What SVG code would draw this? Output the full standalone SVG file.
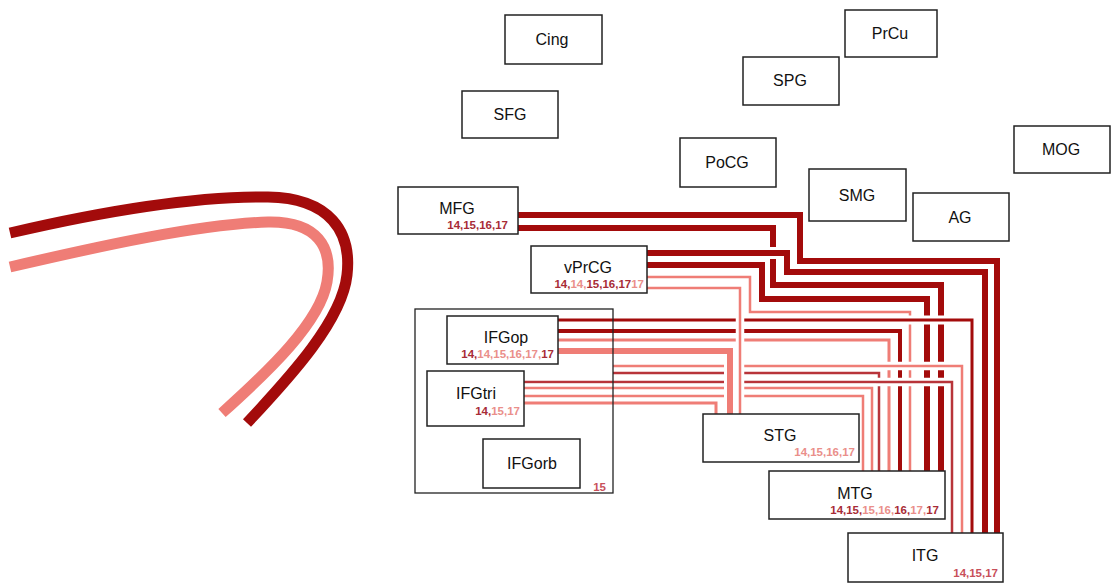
<svg xmlns="http://www.w3.org/2000/svg" xmlns:xlink="http://www.w3.org/1999/xlink" width="1112" height="584" viewBox="0 0 1112 584">
<style>
.box{fill:#fff;stroke:#222;stroke-width:1.5}
.frame{fill:none;stroke:#222;stroke-width:1.3}
.lbl{font-family:"Liberation Sans",Arial,sans-serif;font-size:16px;fill:#111;text-anchor:middle}
.num{font-family:"Liberation Sans",Arial,sans-serif;font-size:11.5px;font-weight:bold;text-anchor:end}
.nd{fill:#a82c36}
.np{fill:#ea8f8a}
.nm{fill:#c8505a}
.c use{fill:none;stroke-linejoin:miter;stroke-linecap:butt}
.halo{stroke:#fff}
.dk{stroke:#a30b0b}
.pk{stroke:#ef7d76}
.md{stroke:#b8343a}
</style>
<defs>
<path id="p1" d="M518,215 H800 V261 H997 V533"/>
<path id="p2" d="M518,228 H773 V285 H941 V471"/>
<path id="p3" d="M647,253 H787 V272 H985 V533"/>
<path id="p4" d="M647,265 H762 V299 H927 V471"/>
<path id="p5" d="M647,277 H750 V312 H910 V471"/>
<path id="p6" d="M558,320 H972 V533"/>
<path id="p7" d="M558,331 H900 V471"/>
<path id="p8" d="M558,340 H889 V471"/>
<path id="p9" d="M613,366 H962 V533"/>
<path id="p10" d="M613,373 H879 V471"/>
<path id="p11" d="M524,382 H952 V533"/>
<path id="p12" d="M524,388 H872 V471"/>
<path id="p13" d="M524,396 H863 V471"/>
<path id="p14" d="M524,403 H716 V414"/>
<path id="p15" d="M558,351 H730 V414"/>
<path id="p16" d="M647,288 H740 V414"/>
</defs>

<g id="tract-curves" fill="none" stroke-linecap="butt">
<path d="M10,233 C100,212 195,196 268,197 C330,198 352,232 347,275 C342,320 292,375 247,423" stroke="#a30b0b" stroke-width="11"/>
<path d="M10,267 C100,246 200,224 268,222 C318,221 333,248 327,282 C320,322 270,370 222,413" stroke="#ef7d76" stroke-width="11"/>
</g>

<g id="connectors" class="c">
<use xlink:href="#p1" class="halo" stroke-width="12"/><use xlink:href="#p1" class="dk" stroke-width="6"/>
<use xlink:href="#p2" class="halo" stroke-width="12"/><use xlink:href="#p2" class="dk" stroke-width="6"/>
<use xlink:href="#p3" class="halo" stroke-width="12"/><use xlink:href="#p3" class="dk" stroke-width="6"/>
<use xlink:href="#p4" class="halo" stroke-width="12"/><use xlink:href="#p4" class="dk" stroke-width="6"/>
<use xlink:href="#p5" class="halo" stroke-width="8.5"/><use xlink:href="#p5" class="pk" stroke-width="2.5"/>
<use xlink:href="#p6" class="halo" stroke-width="9"/><use xlink:href="#p6" class="dk" stroke-width="3"/>
<use xlink:href="#p7" class="halo" stroke-width="10"/><use xlink:href="#p7" class="dk" stroke-width="4"/>
<use xlink:href="#p8" class="halo" stroke-width="9"/><use xlink:href="#p8" class="pk" stroke-width="3"/>
<use xlink:href="#p9" class="halo" stroke-width="8.5"/><use xlink:href="#p9" class="pk" stroke-width="2.5"/>
<use xlink:href="#p10" class="halo" stroke-width="8.5"/><use xlink:href="#p10" class="md" stroke-width="2.5"/>
<use xlink:href="#p11" class="halo" stroke-width="8.5"/><use xlink:href="#p11" class="md" stroke-width="2.5"/>
<use xlink:href="#p12" class="halo" stroke-width="8.5"/><use xlink:href="#p12" class="pk" stroke-width="2.5"/>
<use xlink:href="#p13" class="halo" stroke-width="8.5"/><use xlink:href="#p13" class="pk" stroke-width="2.5"/>
<use xlink:href="#p14" class="halo" stroke-width="9"/><use xlink:href="#p14" class="pk" stroke-width="3"/>
<use xlink:href="#p15" class="halo" stroke-width="12"/><use xlink:href="#p15" class="pk" stroke-width="6"/>
<use xlink:href="#p16" class="halo" stroke-width="8.5"/><use xlink:href="#p16" class="pk" stroke-width="2.5"/>
</g>

<g id="node-Cing"><rect class="box" x="505" y="15" width="97" height="49"/><text class="lbl" x="552" y="45">Cing</text></g>
<g id="node-SFG"><rect class="box" x="462" y="91" width="96" height="47"/><text class="lbl" x="510" y="120">SFG</text></g>
<g id="node-PrCu"><rect class="box" x="845" y="10" width="92" height="47"/><text class="lbl" x="890" y="39">PrCu</text></g>
<g id="node-SPG"><rect class="box" x="743" y="57" width="96" height="48"/><text class="lbl" x="790" y="86">SPG</text></g>
<g id="node-PoCG"><rect class="box" x="680" y="138" width="96" height="49"/><text class="lbl" x="727" y="168">PoCG</text></g>
<g id="node-SMG"><rect class="box" x="809" y="169" width="97" height="52"/><text class="lbl" x="857" y="201">SMG</text></g>
<g id="node-AG"><rect class="box" x="913" y="193" width="96" height="48"/><text class="lbl" x="960" y="223">AG</text></g>
<g id="node-MOG"><rect class="box" x="1014" y="126" width="96" height="47"/><text class="lbl" x="1061" y="155">MOG</text></g>

<g id="node-MFG"><rect class="box" x="398" y="187" width="120" height="47"/><text class="lbl" x="457" y="214">MFG</text><text class="num nd" x="508" y="229">14,15,16,17</text></g>
<g id="node-vPrCG"><rect class="box" x="531" y="246" width="116" height="47"/><text class="lbl" x="588" y="273">vPrCG</text><text class="num" x="644" y="288"><tspan class="nd">14,</tspan><tspan class="np">14,</tspan><tspan class="nd">15,16,17</tspan><tspan class="np">17</tspan></text></g>

<g id="node-IFG"><rect class="frame" x="415" y="309" width="198" height="184"/><text class="num nm" x="606" y="491">15</text></g>
<g id="node-IFGop"><rect class="box" x="447" y="316" width="111" height="48"/><text class="lbl" x="506" y="343">IFGop</text><text class="num" x="554" y="358"><tspan class="nd">14,</tspan><tspan class="np">14,15,16,17,</tspan><tspan class="nd">17</tspan></text></g>
<g id="node-IFGtri"><rect class="box" x="427" y="371" width="97" height="55"/><text class="lbl" x="476" y="399">IFGtri</text><text class="num" x="520" y="415"><tspan class="nd">14,</tspan><tspan class="np">15,17</tspan></text></g>
<g id="node-IFGorb"><rect class="box" x="483" y="439" width="97" height="49"/><text class="lbl" x="532" y="469">IFGorb</text></g>

<g id="node-STG"><rect class="box" x="703" y="414" width="156" height="48"/><text class="lbl" x="780" y="441">STG</text><text class="num np" x="855" y="456">14,15,16,17</text></g>
<g id="node-MTG"><rect class="box" x="769" y="471" width="176" height="48"/><text class="lbl" x="855" y="499">MTG</text><text class="num" x="939" y="514"><tspan class="nd">14,15,</tspan><tspan class="np">15,16,</tspan><tspan class="nd">16,</tspan><tspan class="np">17,</tspan><tspan class="nd">17</tspan></text></g>
<g id="node-ITG"><rect class="box" x="848" y="533" width="155" height="49"/><text class="lbl" x="925" y="561">ITG</text><text class="num nm" x="998" y="577">14,15,17</text></g>
</svg>
